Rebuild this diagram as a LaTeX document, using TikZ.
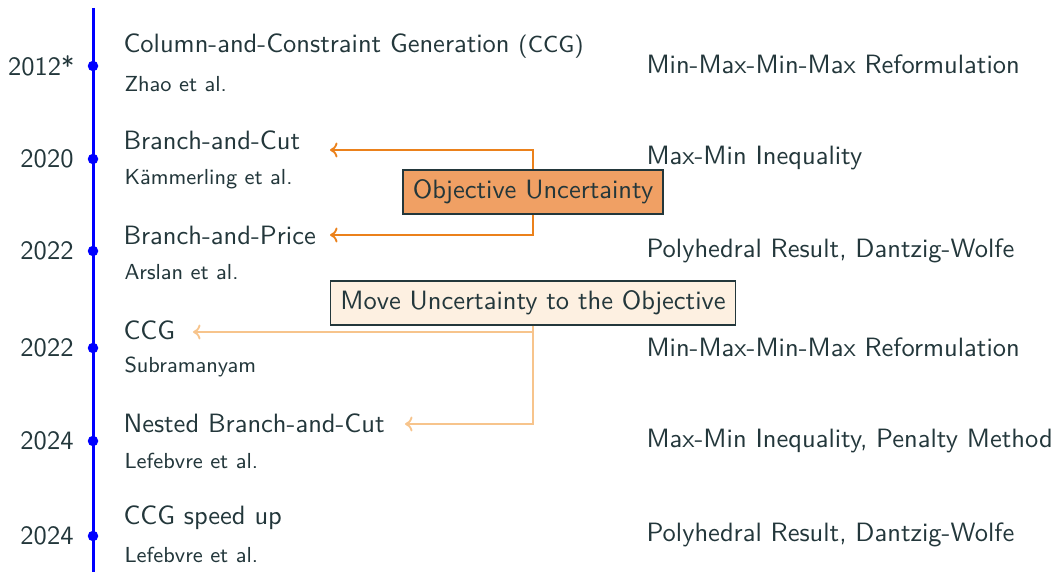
\documentclass[tikz,border=0pt]{standalone}
\usetikzlibrary{arrows.meta}
\definecolor{fg}{HTML}{23373B}
\definecolor{mOrange}{HTML}{EB811B}
\definecolor{boxA}{HTML}{F0A064}
\definecolor{arrB}{HTML}{F7C48C}
\definecolor{boxB}{HTML}{FDF0E1}
\begin{document}
\begin{tikzpicture}[x=0.4pt,y=-0.4pt,
  every node/.style={font=\sffamily\fontsize{10.6}{12}\selectfont, text=fg, inner sep=0pt},
  year/.style={anchor=east},
  ttl/.style={anchor=west},
  auth/.style={anchor=west, font=\sffamily\fontsize{8.7}{10}\selectfont},
  res/.style={anchor=west},
  dot/.style={circle, fill=blue, minimum size=4.2pt, inner sep=0pt},
  tagbox/.style={draw=fg, line width=0.6pt, inner xsep=4pt, inner ysep=4pt, minimum height=16pt},
  arrA/.style={draw=mOrange, line width=0.75pt, -{To[length=3pt,width=6pt]}},
  arrBs/.style={draw=arrB, line width=0.75pt, -{To[length=3pt,width=6pt]}}
]
\useasboundingbox (0,0) rectangle (1057,572);
\coordinate (lt) at (93,8);
\coordinate (lb) at (93,572);
\draw[blue, line width=1.2pt] (lt) -- (lb);

% dots
\foreach \n/\y in {1/66,2/159,3/251,4/348,5/441,6/536}
  \node[dot] (d\n) at (93,\y) {};

% years
\node[year] (y1) at (75,66) {2012*};
\node[year] (y2) at (74,159) {2020};
\node[year] (y3) at (74,251) {2022};
\node[year] (y4) at (74,348) {2022};
\node[year] (y5) at (74,441) {2024};
\node[year] (y6) at (74,536) {2024};

% titles
\node[ttl] (t1) at (123,46) {Column-and-Constraint Generation {\fontsize{9.3}{11}\selectfont(CCG)}};
\node[ttl] (t2) at (123,140) {Branch-and-Cut};
\node[ttl] (t3) at (123,235) {Branch-and-Price};
\node[ttl] (t4) at (123,330) {CCG};
\node[ttl] (t5) at (123,423) {Nested Branch-and-Cut};
\node[ttl] (t6) at (123,518) {CCG speed up};

% authors
\node[auth] (a1) at (124,84) {Zhao et al.};
\node[auth] (a2) at (124,179) {K\"ammerling et al.};
\node[auth] (a3) at (124,272) {Arslan et al.};
\node[auth] (a4) at (124,367) {Subramanyam};
\node[auth] (a5) at (124,461) {Lefebvre et al.};
\node[auth] (a6) at (124,555) {Lefebvre et al.};

% results
\node[res] (r1) at (646,64) {Min-Max-Min-Max Reformulation};
\node[res] (r2) at (646,158) {Max-Min Inequality};
\node[res] (r3) at (646,251) {Polyhedral Result, Dantzig-Wolfe};
\node[res] (r4) at (646,347) {Min-Max-Min-Max Reformulation};
\node[res] (r5) at (646,441) {Max-Min Inequality, Penalty Method};
\node[res] (r6) at (646,535) {Polyhedral Result, Dantzig-Wolfe};

% arrow targets
\coordinate (e2) at (330,150);
\coordinate (e3) at (330,235);
\coordinate (e4) at (193,332);
\coordinate (e5) at (405,424);

% boxes
\node[tagbox, fill=boxA] (objU) at (533,192) {Objective Uncertainty};
\node[tagbox, fill=boxB] (moveU) at (533,303) {Move Uncertainty to the Objective};

% connectors
\draw[arrA] (objU.north) |- (e2);
\draw[arrA] (objU.south) |- (e3);
\draw[arrBs] (moveU.south) |- (e4);
\draw[arrBs] (moveU.south) |- (e5);
\end{tikzpicture}
\end{document}
